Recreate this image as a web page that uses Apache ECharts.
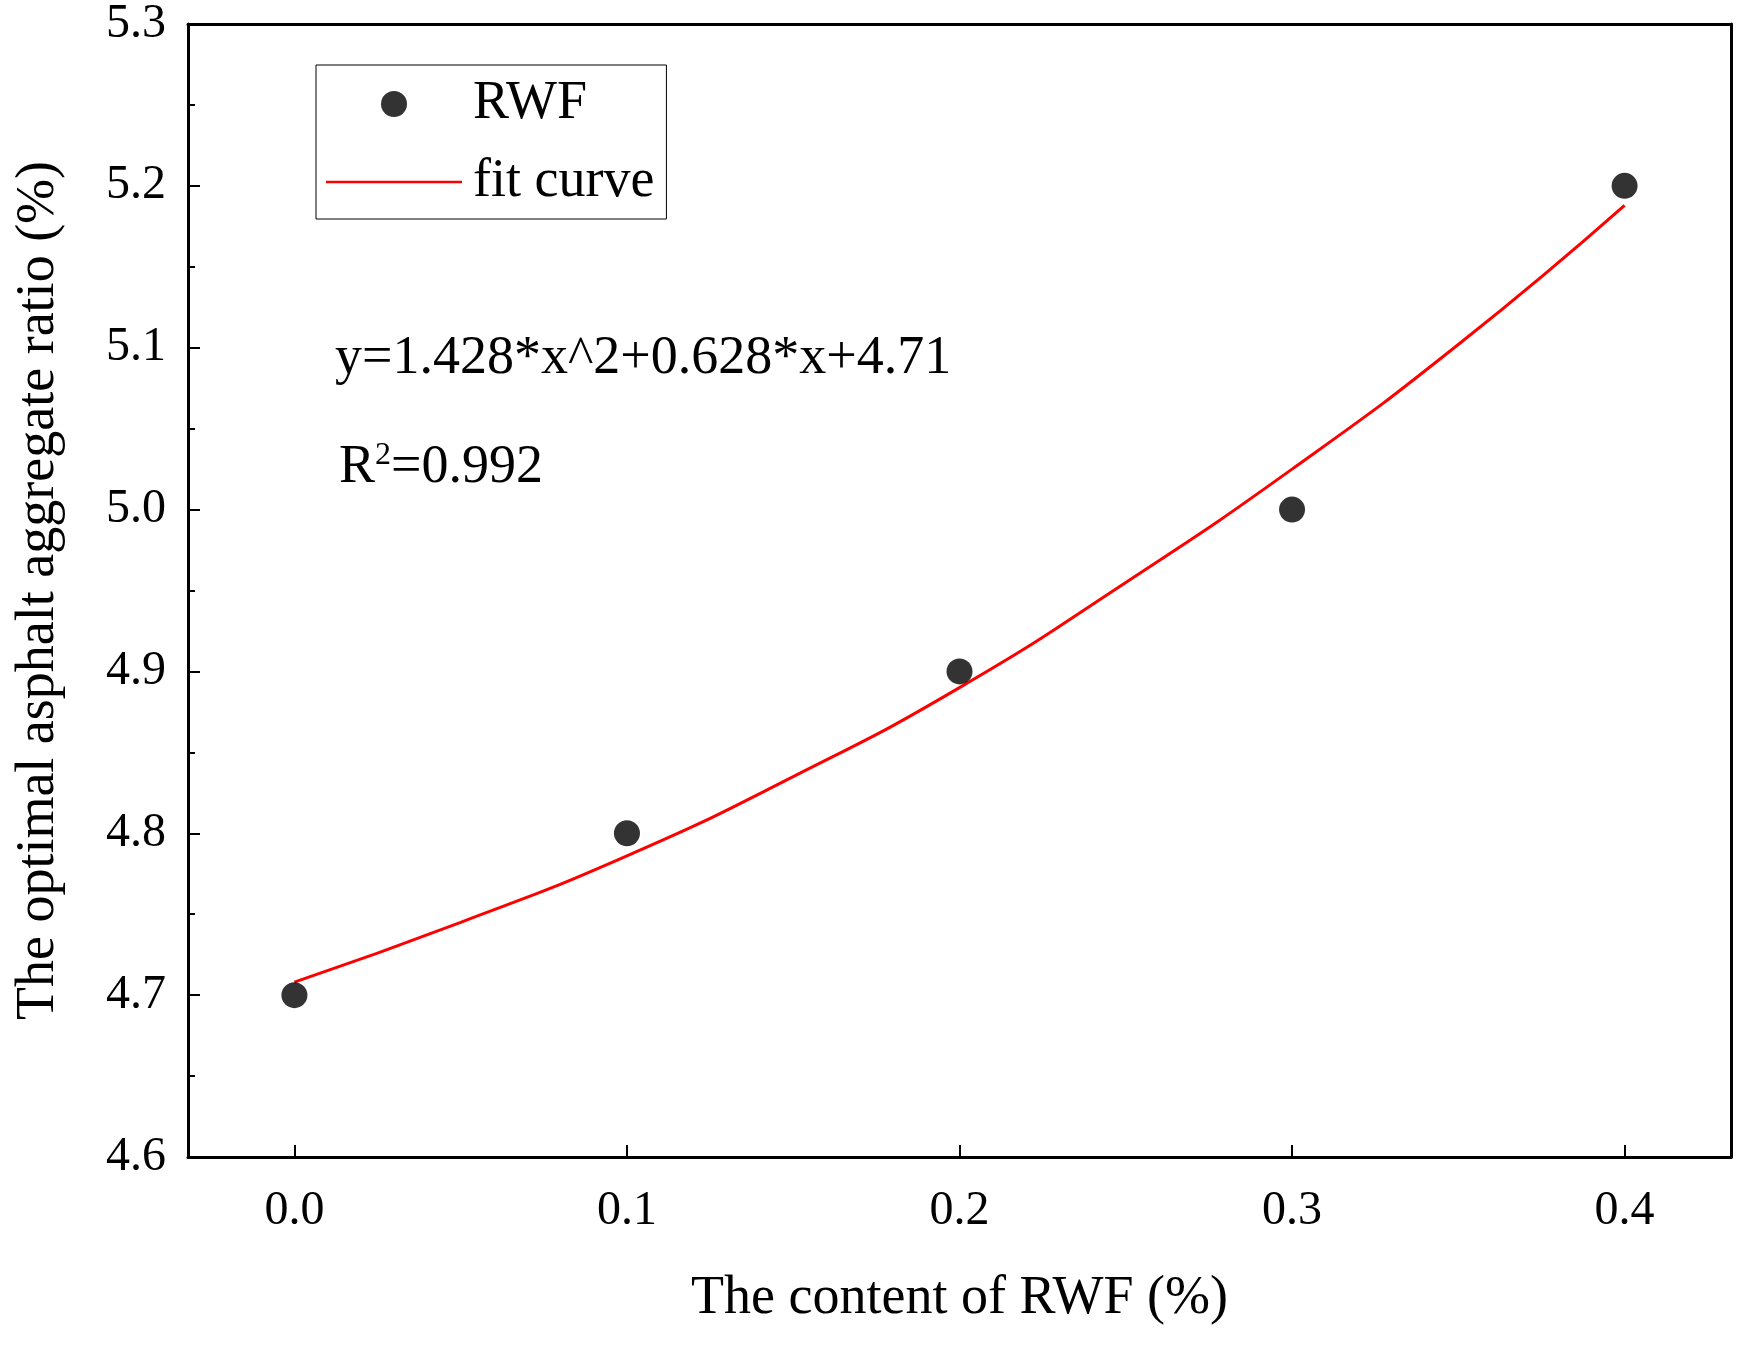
<!DOCTYPE html>
<html>
<head>
<meta charset="UTF-8">
<title></title>
<style>body{margin:0;background:#fff}</style>
</head>
<body>
<div id="main" style="width:1745px;height:1354px"></div>
<script src="https://cdn.jsdelivr.net/npm/echarts@6/dist/echarts.min.js"></script>
<script type="text/javascript">
	var rwfX = [0, 0.1, 0.2, 0.3, 0.4];
	var rwfY = [4.7, 4.8, 4.9, 5.0, 5.2];
	// fit curve
	var fitX = [0, 0.05, 0.1, 0.15, 0.2, 0.25, 0.3, 0.35, 0.4];
	var fitY = [4.708, 4.745, 4.786, 4.835, 4.890, 4.955, 5.025, 5.102, 5.188];

	var font = 'Liberation Serif';
	var myCharts = echarts.init(document.querySelector('#main'));

	var option = {
		backgroundColor: '#fff',
		textStyle: { fontFamily: font },
		grid: { left: 188, right: 14, top: 20, bottom: 197 },
		legend: {
			orient: 'vertical',
			left: 316, top: 65,
			padding: [12, 12, 10, 10],
			itemGap: 24,
			itemWidth: 136, itemHeight: 26,
			borderColor: '#000', borderWidth: 1,
			textStyle: { fontFamily: font, fontSize: 54, color: '#000', padding: [0, 0, 0, 6] },
			data: [
				{ name: 'RWF', icon: 'circle' },
				{ name: 'fit curve', icon: 'path://M0,0H100V2H0Z' }
			]
		},
		xAxis: [{
			type: 'value', min: -0.032, max: 0.432,
			name: 'The content of RWF (%)', nameLocation: 'middle', nameGap: 115,
			nameTextStyle: { fontFamily: font, fontSize: 54, color: '#000' },
			axisLine: { onZero: false, lineStyle: { color: '#000', width: 3 } },
			axisTick: { inside: true, length: 12, lineStyle: { width: 2 },
				interval: function (i, v) { return v > -0.03 && v < 0.43; } },
			axisLabel: { fontSize: 48, color: '#000', margin: 30, showMinLabel: false, showMaxLabel: false,
				formatter: function (v) { return (v > -0.03 && v < 0.43) ? v.toFixed(1) : ''; } },
			splitLine: { show: false }
		}, {
			type: 'value', min: -0.032, max: 0.432, position: 'top',
			axisLine: { onZero: false, lineStyle: { color: '#000', width: 3 } },
			axisTick: { show: false }, axisLabel: { show: false }, splitLine: { show: false }
		}],
		yAxis: [{
			type: 'value', min: 4.6, max: 5.3, interval: 0.1,
			name: 'The optimal asphalt aggregate ratio (%)', nameLocation: 'middle', nameGap: 122,
			nameTextStyle: { fontFamily: font, fontSize: 54, color: '#000' },
			axisLine: { onZero: false, lineStyle: { color: '#000', width: 3 } },
			axisTick: { inside: true, length: 12, lineStyle: { width: 2 } },
			minorTick: { show: true, splitNumber: 2, length: 7, lineStyle: { color: '#000', width: 2 } },
			axisLabel: { fontSize: 48, color: '#000', margin: 22, formatter: function (v) { return v.toFixed(1); } },
			splitLine: { show: false }
		}, {
			type: 'value', min: 4.6, max: 5.3, position: 'right',
			axisLine: { show: true, onZero: false, lineStyle: { color: '#000', width: 3 } },
			axisTick: { show: false }, axisLabel: { show: false }, splitLine: { show: false }
		}],
		graphic: [{
			type: 'text', left: 335, top: 332,
			style: { text: 'y=1.428*x^2+0.628*x+4.71', font: '54px "Liberation Serif"', fill: '#000' }
		}, {
			type: 'text', left: 339, top: 440,
			style: {
				text: 'R{s|2}=0.992', font: '54px "Liberation Serif"', fill: '#000',
				rich: { s: { fontSize: 32, fontFamily: font, verticalAlign: 'top', padding: [0, 0, 24, 0] } }
			}
		}],
		series: [{
			name: 'fit curve', type: 'line', smooth: true, symbol: 'none',
			lineStyle: { color: '#ff0000', width: 3 }, itemStyle: { color: '#ff0000' },
			data: fitX.map(function (x, i) { return [x, fitY[i]]; }), z: 2
		}, {
			name: 'RWF', type: 'scatter', symbolSize: 26,
			itemStyle: { color: '#000' },
			data: rwfX.map(function (x, i) { return [x, rwfY[i]]; }), z: 3
		}]
	};

	myCharts.setOption(option);
</script>
</body>
</html>
